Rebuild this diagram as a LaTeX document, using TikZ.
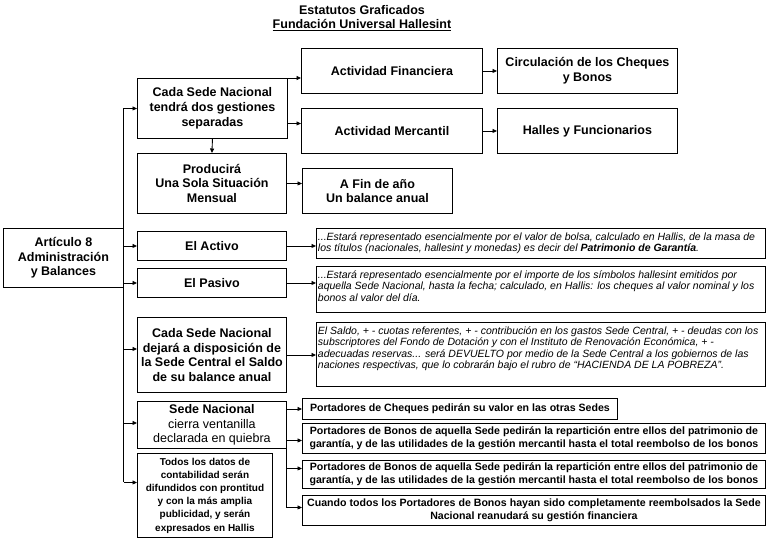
\documentclass[tikz,border=0pt]{standalone}
\usepackage{fontspec}
\setmainfont{Liberation Sans}
\usetikzlibrary{arrows.meta,positioning}
\definecolor{EstInk}{HTML}{000000}
\definecolor{EstPaper}{HTML}{FFFFFF}
\tikzset{
  estbox/.style={
    draw=EstInk,
    fill=EstPaper,
    line width=.9pt,
    anchor=north west,
    align=center,
    inner sep=2pt,
    font=\bfseries\fontsize{12.5}{14.7}\selectfont
  },
  estsize/.style 2 args={minimum width=#1pt,minimum height=#2pt},
  estsmall/.style={
    estbox,
    font=\bfseries\fontsize{10}{13.2}\selectfont
  },
  estwide/.style={
    estbox,
    inner sep=1pt,
    font=\bfseries\fontsize{10.6}{13.5}\selectfont
  },
  estnote/.style={
    estbox,
    align=left,
    inner xsep=1.5pt,
    inner ysep=4.5pt,
    font=\itshape\fontsize{10.5}{11.2}\selectfont
  },
  estarrow/.style={-{Triangle[length=4.5pt,width=4pt]},line width=.9pt,draw=EstInk},
  estline/.style={line width=.9pt,draw=EstInk}
}
\newcommand{\estnotetext}[2]{\parbox[c][#1pt][t]{446pt}{\raggedright #2}}

\begin{document}
\begin{tikzpicture}[x=1pt,y=-1pt]
    \useasboundingbox (0,0) rectangle (768,539);
    \fill[EstPaper] (0,0) rectangle (768,539);
    % title
    \node[font=\bfseries\fontsize{12.5}{14}\selectfont] (title) at (362,10) {Estatutos Graficados};
    \node[font=\bfseries\fontsize{12.5}{14}\selectfont] (subtitle) at (362,25) {\underline{Fundación Universal Hallesint}};
    % left column
    \node[estbox,estsize={120}{59}] (art) at (3,228) {Artículo 8\\Administración\\y Balances};
    \node[estbox,estsize={150}{60}] (cada) at (137,78) {Cada Sede Nacional\\tendrá dos gestiones\\separadas};
    \node[estbox,estsize={149}{60}] (prod) at (137,153) {Producirá\\Una Sola Situación\\Mensual};
    \node[estbox,estsize={149}{29}] (activo) at (137,231) {El Activo};
    \node[estbox,estsize={149}{29}] (pasivo) at (137,268) {El Pasivo};
    \node[estbox,estsize={149}{75}] (saldo) at (137,317) {Cada Sede Nacional\\dejará a disposición de\\la Sede Central el Saldo\\de su balance anual};
    \node[estbox,estsize={149}{47}] (cierra) at (137,401) {Sede Nacional\\\mdseries cierra ventanilla\\\mdseries declarada en quiebra};
    \node[estsmall,estsize={135}{84}] (todos) at (137,453) {Todos los datos de\\contabilidad serán\\difundidos con prontitud\\y con la más amplia\\publicidad, y serán\\expresados en Hallis};
    % right column
    \node[estbox,estsize={181}{45}] (fin) at (301,48) {Actividad Financiera};
    \node[estbox,estsize={181}{45}] (merc) at (301,108) {Actividad Mercantil};
    \node[estbox,estsize={180}{45}] (circ) at (497,48) {Circulación de los Cheques\\y Bonos};
    \node[estbox,estsize={180}{45}] (halles) at (497,108) {Halles y Funcionarios};
    \node[estbox,estsize={150}{45}] (afin) at (302,168) {A Fin de año\\Un balance anual};
    \node[estnote,estsize={449}{30}] (activotxt) at (316,228) {\estnotetext{21}{...Estará representado esencialmente por el valor de bolsa, calculado en Hallis, de la masa de\\los títulos (nacionales, hallesint y monedas) es decir del \textbf{Patrimonio de Garantía}.}};
    \node[estnote,estsize={449}{46}] (pasivotxt) at (316,266) {\estnotetext{37}{...Estará representado esencialmente por el importe de los símbolos hallesint emitidos por\\aquella Sede Nacional, hasta la fecha; calculado, en Hallis: los cheques al valor nominal y los\\bonos al valor del día.}};
    \node[estnote,estsize={449}{64}] (saldotxt) at (316,322) {\estnotetext{55}{El Saldo, + - cuotas referentes, + - contribución en los gastos Sede Central, + - deudas con los\\subscriptores del Fondo de Dotación y con el Instituto de Renovación Económica, + -\\adecuadas reservas... será DEVUELTO por medio de la Sede Central a los gobiernos de las\\naciones respectivas, que lo cobrarán bajo el rubro de ``HACIENDA DE LA POBREZA''.}};
    \node[estwide,estsize={315}{21}] (cheq) at (302,398) {Portadores de Cheques pedirán su valor en las otras Sedes};
    \node[estwide,estsize={463}{30}] (bonosA) at (302,423) {Portadores de Bonos de aquella Sede pedirán la repartición entre ellos del patrimonio de\\garantía, y de las utilidades de la gestión mercantil hasta el total reembolso de los bonos};
    \node[estwide,estsize={463}{28}] (bonosB) at (302,460) {Portadores de Bonos de aquella Sede pedirán la repartición entre ellos del patrimonio de\\garantía, y de las utilidades de la gestión mercantil hasta el total reembolso de los bonos};
    \node[estwide,estsize={463}{30}] (cuando) at (302,495) {Cuando todos los Portadores de Bonos hayan sido completamente reembolsados la Sede\\Nacional reanudará su gestión financiera};
    % trunk from the article
    \coordinate (todosin) at ([yshift=13pt]todos.west);
    \draw[estline] (cada.west -| art.east) -- (todosin -| art.east);
    \draw[estarrow] (cada.west -| art.east) -- (cada.west);
    \draw[estarrow] (activo.west -| art.east) -- (activo.west);
    \draw[estarrow] (pasivo.west -| art.east) -- (pasivo.west);
    \draw[estarrow] ([yshift=6pt]saldo.west -| art.east) -- ([yshift=6pt]saldo.west);
    \draw[estarrow] ([yshift=2pt]cierra.west -| art.east) -- ([yshift=2pt]cierra.west);
    \draw[estarrow] (todosin -| art.east) -- (todosin);
    % branches
    \draw[estarrow] (cada.north east) -- (cada.north east -| fin.west);
    \draw[estarrow] ([yshift=-15pt]cada.east) -- ([yshift=-15pt]cada.east -| merc.west);
    \draw[estarrow] (fin.east) -- (circ.west);
    \draw[estarrow] (merc.east) -- (halles.west);
    \draw[estarrow] (cada.south) -- (prod.north);
    \draw[estarrow] (prod.east) -- (prod.east -| afin.west);
    \draw[estarrow] (activo.east) -- (activo.east -| activotxt.west);
    \draw[estarrow] (pasivo.east) -- (pasivo.east -| pasivotxt.west);
    \draw[estarrow] (saldo.east) -- (saldo.east -| saldotxt.west);
    \draw[estarrow] (cheq.west -| cierra.east) -- (cheq.west);
    \draw[estarrow] ([yshift=-2pt]bonosA.west -| cierra.east) -- ([yshift=-2pt]bonosA.west);
    \draw[estarrow] ([yshift=6pt]bonosB.west -| cierra.east) -- ([yshift=6pt]bonosB.west);
    \draw[estarrow] (cierra.south east) |- ([yshift=3pt]cuando.west);
  \end{tikzpicture}
\end{document}
